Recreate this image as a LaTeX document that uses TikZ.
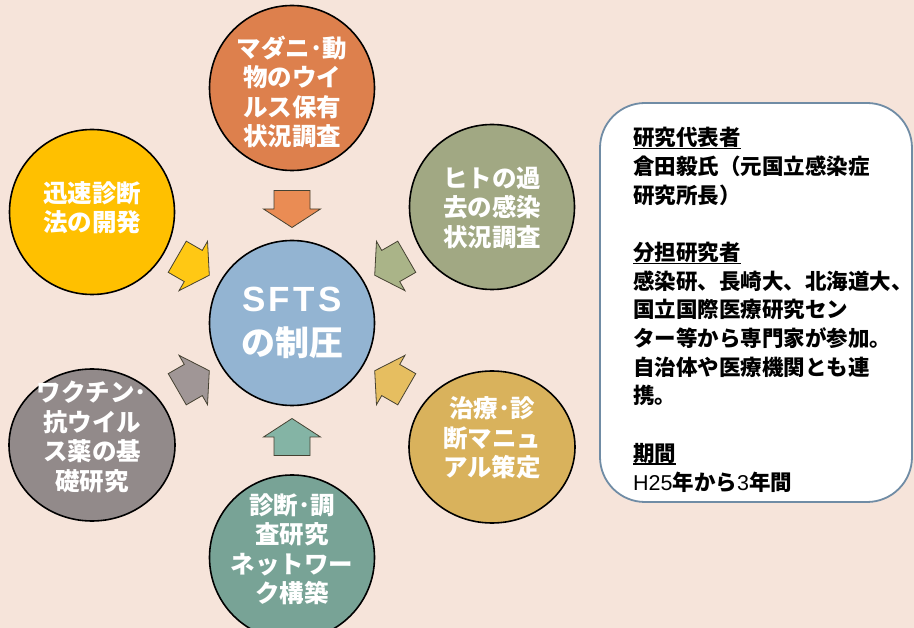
\documentclass[tikz,border=0pt]{standalone}
\usepackage{fontspec}
\setmainfont{Noto Sans CJK JP}
\newfontfamily\lat{Liberation Sans}
\usetikzlibrary{calc,shapes.geometric}
\definecolor{bg}{RGB}{246,228,218}
\definecolor{cOr}{RGB}{221,128,77}
\definecolor{cGr}{RGB}{161,168,131}
\definecolor{cYe}{RGB}{255,192,0}
\definecolor{cGo}{RGB}{217,178,92}
\definecolor{cTe}{RGB}{120,163,150}
\definecolor{cGy}{RGB}{146,138,138}
\definecolor{cBl}{RGB}{147,180,210}
\definecolor{aOr}{RGB}{234,140,84}
\definecolor{aGr}{RGB}{170,180,136}
\definecolor{aYe}{RGB}{255,200,20}
\definecolor{aGo}{RGB}{230,190,96}
\definecolor{aTe}{RGB}{132,180,165}
\definecolor{aGy}{RGB}{160,150,150}
\definecolor{aline}{RGB}{70,66,50}
\definecolor{boxline}{RGB}{112,140,165}
\newcommand\uln[1]{\setbox0\hbox{#1}\rlap{\rule[-3.5pt]{\wd0}{1.4pt}}\box0}
\begin{document}
\begin{tikzpicture}[x=1pt,y=-1pt,
  circ/.style={circle, draw=black, line width=1.6pt, minimum size=165pt, inner sep=0pt},
  oval/.style={ellipse, draw=black, line width=1.6pt, minimum width=166pt, minimum height=152pt, inner sep=0pt},
  ctext/.style={text=white, font=\fontsize{24.5pt}{29.5pt}\selectfont\bfseries, align=center, inner sep=0pt},
  blk/.style={draw=aline, line width=0.8pt, line join=miter},
  infobox/.style={draw=boxline, line width=1.8pt, fill=white, rounded corners=45pt, minimum width=312pt, minimum height=399pt, inner sep=0pt},
  infotext/.style={font=\fontsize{21.5pt}{28.7pt}\selectfont\bfseries, align=left, inner sep=0pt, anchor=north west}
]
\useasboundingbox (0,0) rectangle (914,628);
\fill[bg] (0,0) rectangle (914,628);

% circles
\node[circ, fill=cBl] (c0) at (292,323) {};
\node[circ, fill=cOr] (top) at (292,88) {};
\node[circ, fill=cGr] (ur) at (492,207) {};
\node[oval, fill=cGo] (lr) at (492,447) {};
\node[circ, fill=cTe] (bot) at (292,557.5) {};
\node[oval, fill=cGy] (ll) at (92,445) {};
\node[circ, fill=cYe] (ul) at (92,212) {};

% texts
\node[ctext, font=\fontsize{35pt}{44pt}\selectfont\bfseries] (t0) at ($(c0)+(0,0)$) {{\lat S\kern3.5pt F\kern3.5pt T\kern3.5pt S}\\{\fontsize{34pt}{44pt}\selectfont\bfseries の制圧}};
\node[ctext] (ttop) at ($(top)+(0,4)$) {マダニ･動\\物のウイ\\ルス保有\\状況調査};
\node[ctext] (tur) at ($(ur)+(0,1)$) {ヒトの過\\去の感染\\状況調査};
\node[ctext] (tlr) at ($(lr)+(0,-9)$) {治療･診\\断マニュ\\アル策定};
\node[ctext] (tbot) at ($(bot)+(0,-8)$) {診断･調\\査研究\\ネットワー\\ク構築};
\node[ctext] (tll) at ($(ll)+(0,-8)$) {ワクチン･\\抗ウイル\\ス薬の基\\礎研究};
\node[ctext] (tul) at ($(ul)+(0,-4)$) {迅速診断\\法の開発};

% block arrows toward the centre
\foreach \a/\fc in {90/aOr, 30/aGr, -30/aGo, -90/aTe, -150/aGy, 150/aYe}{
  \begin{scope}[shift={($(c0)+(\a:114pt)$)}, rotate=\a+180]
    \filldraw[blk, fill=\fc] (-18.5,-18) -- (0,-18) -- (0,-28.5) -- (18.5,0) -- (0,28.5) -- (0,18) -- (-18.5,18) -- cycle;
  \end{scope}
}

% info box
\node[infobox] (info) at (756,302.5) {};
\node[infotext] (infot) at (633,127) {\uln{研究代表者}\\
倉田毅氏（元国立感染症\\
研究所長）\\[28.7pt]
\uln{分担研究者}\\
感染研、長崎大、北海道大、\\
国立国際医療研究セン\\
ター等から専門家が参加。\\
自治体や医療機関とも連\\
携。\\[28.7pt]
\uln{期間}\\
{\mdseries\lat H25}年から{\mdseries\lat 3}年間};
\end{tikzpicture}
\end{document}
